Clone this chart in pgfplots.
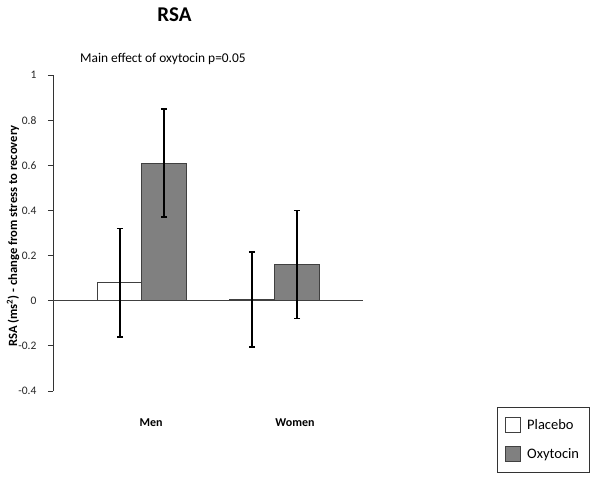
\documentclass[border=0pt]{standalone}
\usepackage{fontspec}
\setmainfont{Carlito}
\usepackage{pgfplots}
\pgfplotsset{compat=1.18}
\begin{document}
\begin{tikzpicture}[x=1pt,y=1pt]
\useasboundingbox (0,0) rectangle (600,-478);
\begin{axis}[
  at={(53pt,-391pt)}, anchor=south west,
  scale only axis, width=310pt, height=316pt,
  xmin=53, xmax=363, ymin=-0.4, ymax=1,
  axis x line=none, axis y line=left,
  axis line style={-, black!80, line width=0.8pt},
  ytick={-0.4,-0.2,0,0.2,0.4,0.6,0.8,1},
  yticklabels={-0.4,-0.2,0,0.2,0.4,0.6,0.8,1},
  tick align=outside, major tick length=5pt,
  ytick style={black!80, line width=0.8pt},
  yticklabel style={font=\fontsize{11.5}{13}\selectfont, text=black!85, xshift=-8pt},
  clip=false,
  legend style={at={(1.432,-0.05)}, anchor=north west, draw=black!80, line width=0.8pt,
    font=\fontsize{14.5}{17}\selectfont, inner xsep=8pt, inner ysep=10pt, row sep=13pt,
    cells={anchor=west}, /tikz/every odd column/.append style={column sep=4pt}},
]
\addplot[black!75, line width=1pt, forget plot] coordinates {(53,0) (363,0)};
\addplot[ybar, bar width=44.5, bar shift=0pt, fill=white, draw=black!75, line width=0.9pt,
  legend image code/.code={\draw[fill=white,draw=black!75,line width=0.9pt] (0pt,-7.5pt) rectangle (15pt,7.5pt);},
  error bars/.cd, y dir=both, y explicit,
  error bar style={line width=1.4pt, black},
  error mark options={rotate=90, mark size=3.2pt, line width=1.4pt, black}]
  coordinates {(120,0.08) +- (0,0.24) (252,0.005) +- (0,0.21)};
\addlegendentry{Placebo\hspace{14pt}}
\addplot[ybar, bar width=44.5, bar shift=0pt, fill=black!50, draw=black!75, line width=0.9pt,
  legend image code/.code={\draw[fill=black!50,draw=black!75,line width=0.9pt] (0pt,-7.5pt) rectangle (15pt,7.5pt);},
  error bars/.cd, y dir=both, y explicit,
  error bar style={line width=1.4pt, black},
  error mark options={rotate=90, mark size=3.2pt, line width=1.4pt, black}]
  coordinates {(164,0.61) +- (0,0.24) (297,0.16) +- (0,0.24)};
\addlegendentry{Oxytocin\hspace{14pt}}
\end{axis}
\node[anchor=base, font=\fontsize{21}{24}\selectfont\bfseries] at (174.5,-22) {RSA};
\node[anchor=base west, inner sep=0pt, font=\fontsize{13.4}{15}\selectfont] at (80,-63) {Main effect of oxytocin p=0.05};
\node[rotate=90, font=\fontsize{12.6}{14}\selectfont\bfseries] at (13,-236) {RSA (ms\textsuperscript{2}) - change from stress to recovery};
\node[anchor=base, font=\fontsize{12}{14}\selectfont\bfseries] at (151,-426) {Men};
\node[anchor=base, font=\fontsize{12}{14}\selectfont\bfseries] at (295,-426) {Women};
\end{tikzpicture}
\end{document}
